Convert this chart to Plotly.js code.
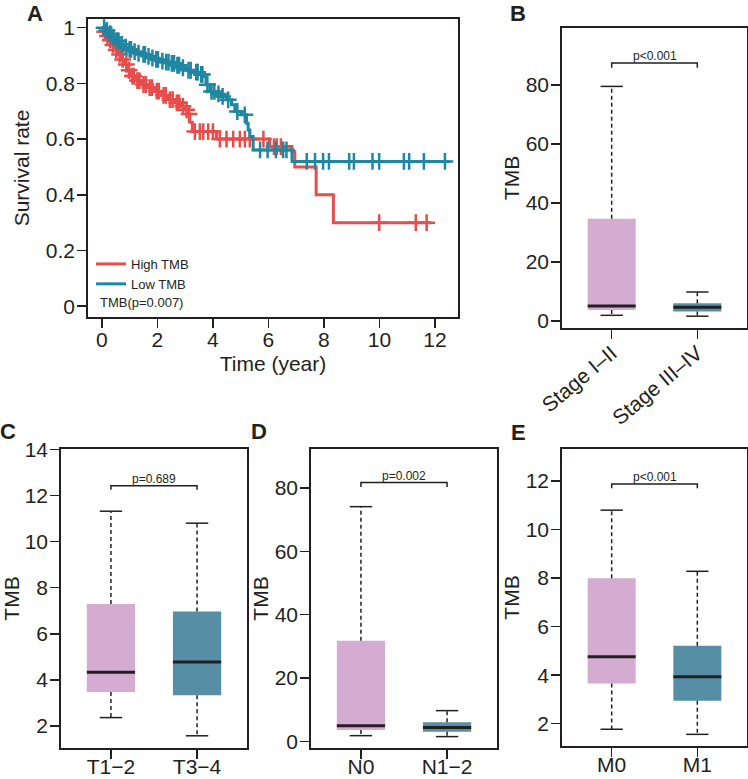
<!DOCTYPE html>
<html>
<head>
<meta charset="utf-8">
<script src="https://cdn.plot.ly/plotly-3.0.1.min.js"></script>
<style>
  body { margin: 0; background: #fff; }
  #chart { width: 748px; height: 779px; }
</style>
</head>
<body>
<div id="chart"></div>
<script>
const font = 'Liberation Sans, Arial, Helvetica, sans-serif';
const ink = '#231f20';
const red = '#e84c4b';
const teal = '#1f87a2';
const boxFill = ['#d4acd1', '#568ea6'];

// Panel A - Kaplan-Meier curves (time in years, survival probability)
const highTime = [0, 0.05, 0.15, 0.25, 0.35, 0.46, 0.58, 0.7, 0.82, 0.94, 1.06, 1.2, 1.42, 1.65, 1.9, 2.15, 2.38, 2.62, 2.86, 3.0, 3.11, 3.17, 3.26, 4.13, 6.04, 6.85, 6.95, 7.72, 8.34];
const highSurv = [1, 0.985, 0.97, 0.955, 0.938, 0.92, 0.904, 0.886, 0.868, 0.847, 0.826, 0.81, 0.796, 0.785, 0.772, 0.757, 0.742, 0.73, 0.718, 0.705, 0.69, 0.66, 0.627, 0.6, 0.573, 0.555, 0.5, 0.4, 0.3];
const highEnd = 11.88;
const highCensor = [0.1, 0.2, 0.3, 0.4, 0.52, 0.64, 0.75, 0.88, 0.98, 1.1, 1.15, 1.28, 1.35, 1.5, 1.58, 1.72, 1.8, 1.98, 2.05, 2.22, 2.3, 2.45, 2.55, 2.7, 2.78, 2.92, 3.05, 3.14, 3.35, 3.53, 3.65, 3.83, 4.0, 4.25, 4.49, 4.73, 4.97, 5.15, 5.33, 5.82, 6.2, 6.3, 6.45, 9.99, 11.31, 11.7];

const lowTime = [0, 0.12, 0.25, 0.38, 0.5, 0.65, 0.8, 0.94, 1.1, 1.25, 1.42, 1.6, 1.75, 1.9, 2.1, 2.25, 2.45, 2.65, 2.85, 3.05, 3.3, 3.5, 3.68, 3.75, 3.89, 4.1, 4.25, 4.49, 4.67, 4.79, 5.03, 5.21, 5.27, 5.33, 5.45, 6.85];
const lowSurv = [1, 0.99, 0.978, 0.965, 0.952, 0.94, 0.93, 0.922, 0.914, 0.908, 0.904, 0.897, 0.891, 0.886, 0.88, 0.876, 0.872, 0.865, 0.856, 0.847, 0.84, 0.832, 0.825, 0.795, 0.771, 0.762, 0.753, 0.741, 0.723, 0.699, 0.687, 0.657, 0.633, 0.609, 0.561, 0.52];
const lowEnd = 12.54;
const lowCensor = [0.08, 0.18, 0.3, 0.42, 0.55, 0.6, 0.72, 0.86, 1.0, 1.05, 1.18, 1.32, 1.5, 1.55, 1.68, 1.82, 1.96, 2.02, 2.18, 2.32, 2.4, 2.52, 2.6, 2.72, 2.78, 2.92, 3.12, 3.2, 3.4, 3.45, 3.58, 3.62, 3.8, 3.95, 4.05, 4.2, 4.35, 4.55, 4.88, 5.15, 5.7, 5.97, 6.27, 6.53, 6.65, 7.38, 7.68, 7.97, 8.18, 8.91, 9.08, 9.75, 9.99, 10.88, 11.07, 11.6, 12.36];

// Panel B - stage
const stageGroups = ['Stage I\u2013II', 'Stage III\u2013IV'];
const stageQ1 = [3.7, 3.2];
const stageMed = [5.1, 4.6];
const stageQ3 = [34.6, 6.0];
const stageLow = [1.9, 1.6];
const stageHigh = [79.5, 9.8];

// Panel C - T
const tGroups = ['T1\u22122', 'T3\u22124'];
const tQ1 = [3.47, 3.33];
const tMed = [4.33, 4.77];
const tQ3 = [7.29, 6.97];
const tLow = [2.36, 1.57];
const tHigh = [11.32, 10.8];

// Panel D - N
const nGroups = ['N0', 'N1\u22122'];
const nQ1 = [3.6, 3.0];
const nMed = [4.9, 4.4];
const nQ3 = [31.8, 6.0];
const nLow = [1.8, 1.5];
const nHigh = [74.1, 9.7];

// Panel E - M
const mGroups = ['M0', 'M1'];
const mQ1 = [3.66, 2.94];
const mMed = [4.76, 3.93];
const mQ3 = [7.99, 5.21];
const mLow = [1.77, 1.56];
const mHigh = [10.8, 8.28];

function survAt(times, surv, t) {
    let s = surv[0];
    for (let i = 0; i < times.length; i++) {
        if (times[i] <= t) s = surv[i];
    }
    return s;
}

function stepTrace(name, times, surv, end, color) {
    return {
        x: times.concat([end]),
        y: surv.concat([surv[surv.length - 1]]),
        type: 'scatter', mode: 'lines', name: name,
        line: { shape: 'hv', color: color, width: 3 },
        xaxis: 'x', yaxis: 'y', hoverinfo: 'skip'
    };
}

function censorTrace(times, surv, censor, color) {
    return {
        x: censor,
        y: censor.map(t => survAt(times, surv, t)),
        type: 'scatter', mode: 'markers', showlegend: false,
        marker: { symbol: 'cross-thin', size: 12, color: color, line: { width: 2.5, color: color } },
        xaxis: 'x', yaxis: 'y', hoverinfo: 'skip'
    };
}

const traces = [
    stepTrace('High TMB', highTime, highSurv, highEnd, red),
    censorTrace(highTime, highSurv, highCensor, red),
    stepTrace('Low TMB', lowTime, lowSurv, lowEnd, teal),
    censorTrace(lowTime, lowSurv, lowCensor, teal)
];
const annotations = [];

function boxPanel(n, q1, med, q3, lo, hi, bracket, pText) {
    const xa = 'x' + n, ya = 'y' + n;
    const common = { xaxis: xa, yaxis: ya, showlegend: false, hoverinfo: 'skip' };
    [0, 1].forEach(i => {
        traces.push(Object.assign({
            type: 'box', x: [i], q1: [q1[i]], median: [med[i]], q3: [q3[i]],
            lowerfence: [lo[i]], upperfence: [hi[i]], width: 0.56,
            fillcolor: boxFill[i], line: { width: 0, color: boxFill[i] },
            whiskerwidth: 0, boxpoints: false
        }, common));
    });
    // dashed whiskers
    traces.push(Object.assign({
        type: 'scatter', mode: 'lines',
        x: [0, 0, null, 0, 0, null, 1, 1, null, 1, 1],
        y: [q3[0], hi[0], null, q1[0], lo[0], null, q3[1], hi[1], null, q1[1], lo[1]],
        line: { color: ink, width: 1.5, dash: '4px,3px' }
    }, common));
    // whisker caps
    const cw = 0.13;
    traces.push(Object.assign({
        type: 'scatter', mode: 'lines',
        x: [-cw, cw, null, -cw, cw, null, 1 - cw, 1 + cw, null, 1 - cw, 1 + cw],
        y: [hi[0], hi[0], null, lo[0], lo[0], null, hi[1], hi[1], null, lo[1], lo[1]],
        line: { color: ink, width: 1.5 }
    }, common));
    // medians
    const mw = 0.28;
    traces.push(Object.assign({
        type: 'scatter', mode: 'lines',
        x: [-mw, mw, null, 1 - mw, 1 + mw],
        y: [med[0], med[0], null, med[1], med[1]],
        line: { color: ink, width: 3 }
    }, common));
    // significance bracket
    traces.push(Object.assign({
        type: 'scatter', mode: 'lines',
        x: [0, 0, 1, 1],
        y: [bracket[1], bracket[0], bracket[0], bracket[1]],
        line: { color: ink, width: 1.5 }
    }, common));
    annotations.push({
        xref: xa, yref: ya, x: 0.5, y: bracket[0], text: pText, showarrow: false,
        yanchor: 'bottom', yshift: -2, font: { family: font, size: 12, color: ink }
    });
}

boxPanel(2, stageQ1, stageMed, stageQ3, stageLow, stageHigh, [87.4, 85.8], 'p<0.001');
boxPanel(3, tQ1, tMed, tQ3, tLow, tHigh, [12.43, 12.25], 'p=0.689');
boxPanel(4, nQ1, nMed, nQ3, nLow, nHigh, [81.7, 80.3], 'p=0.002');
boxPanel(5, mQ1, mMed, mQ3, mLow, mHigh, [11.88, 11.7], 'p<0.001');

function axis(extra) {
    return Object.assign({
        showline: true, mirror: true, linecolor: ink, linewidth: 1.8,
        ticks: 'outside', ticklen: 9, tickwidth: 1.6, tickcolor: ink,
        showgrid: false, zeroline: false, fixedrange: true,
        tickfont: { family: font, size: 21, color: ink }
    }, extra);
}
function xax(extra) { return axis(Object.assign({ ticklabelstandoff: -10 }, extra)); }
function yax(extra) { return axis(Object.assign({ ticklabelstandoff: -2 }, extra)); }
function title(text, standoff) {
    return { text: text, standoff: standoff, font: { family: font, size: 21, color: ink } };
}

const W = 748, H = 779;
const xdom = (a, b) => [a / W, b / W];
const ydom = (top, bottom) => [1 - bottom / H, 1 - top / H];

const layout = {
    width: W, height: H,
    margin: { l: 0, r: 0, t: 0, b: 0 },
    paper_bgcolor: '#fff', plot_bgcolor: '#fff',
    boxmode: 'overlay',
    showlegend: true,
    legend: {
        x: 91 / W, y: 1 - 249 / H, xanchor: 'left', yanchor: 'top',
        bgcolor: 'rgba(0,0,0,0)', tracegroupgap: 0, itemwidth: 30,
        font: { family: font, size: 13, color: ink }
    },
    xaxis: xax({
        domain: xdom(88, 458), range: [-0.5, 12.83], anchor: 'y',
        tickvals: [0, 2, 4, 6, 8, 10, 12], ticklabelstandoff: -6,
        title: title('Time (year)', 6)
    }),
    yaxis: yax({
        domain: ydom(19, 317), range: [-0.0385, 1.031], anchor: 'x',
        tickvals: [0, 0.2, 0.4, 0.6, 0.8, 1],
        ticktext: ['0', '0.2', '0.4', '0.6', '0.8', '1'],
        title: title('Survival rate', 10)
    }),
    xaxis2: axis({
        domain: xdom(562, 747), range: [-0.58, 1.58], anchor: 'y2',
        tickvals: [0, 1], ticktext: stageGroups, tickangle: -40, ticklabelstandoff: -6
    }),
    yaxis2: yax({
        domain: ydom(28, 328), range: [-2.4, 99.3], anchor: 'x2',
        tickvals: [0, 20, 40, 60, 80], title: title('TMB', 0)
    }),
    xaxis3: xax({
        domain: xdom(61, 247), range: [-0.58, 1.58], anchor: 'y3',
        tickvals: [0, 1], ticktext: tGroups
    }),
    yaxis3: yax({
        domain: ydom(449, 748), range: [1.04, 14.02], anchor: 'x3',
        tickvals: [2, 4, 6, 8, 10, 12, 14], title: title('TMB', 11)
    }),
    xaxis4: xax({
        domain: xdom(311, 497), range: [-0.58, 1.58], anchor: 'y4',
        tickvals: [0, 1], ticktext: nGroups
    }),
    yaxis4: yax({
        domain: ydom(449, 748), range: [-2.1, 92.3], anchor: 'x4',
        tickvals: [0, 20, 40, 60, 80], title: title('TMB', 0)
    }),
    xaxis5: xax({
        domain: xdom(562, 747), range: [-0.58, 1.58], anchor: 'y5',
        tickvals: [0, 1], ticktext: mGroups
    }),
    yaxis5: yax({
        domain: ydom(449, 746), range: [1.08, 13.32], anchor: 'x5',
        tickvals: [2, 4, 6, 8, 10, 12], title: title('TMB', 0)
    }),
    annotations: annotations.concat([
        { xref: 'paper', yref: 'paper', x: 98 / W, y: 1 - 302 / H, xanchor: 'left', yanchor: 'middle',
          text: 'TMB(p=0.007)', showarrow: false, font: { family: font, size: 13, color: ink } }
    ]).concat([['A', 35, 14], ['B', 518, 14], ['C', 8, 431], ['D', 259, 431], ['E', 518, 432]].map(p => ({
        xref: 'paper', yref: 'paper', x: p[1] / W, y: 1 - p[2] / H, xanchor: 'center', yanchor: 'middle',
        text: '<b>' + p[0] + '</b>', showarrow: false, font: { family: font, size: 22, color: ink }
    })))
};

Plotly.newPlot('chart', traces, layout, { staticPlot: true, displayModeBar: false });
</script>
</body>
</html>
